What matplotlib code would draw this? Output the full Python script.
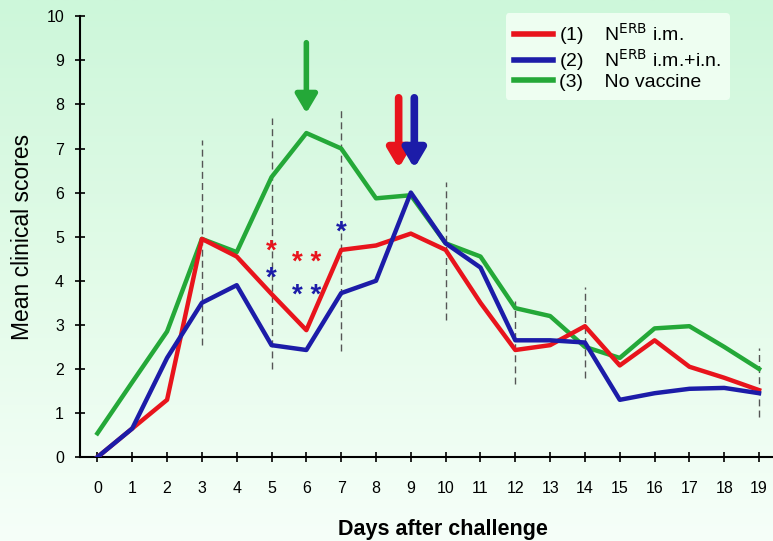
import numpy as np
import matplotlib
matplotlib.use('Agg')
from matplotlib import pyplot as plt
from matplotlib.colors import LinearSegmentedColormap

plt.rcParams['font.family'] = ['Liberation Sans', 'DejaVu Sans']

# Data
days = list(range(20))
im_scores = [0.0, 0.65, 1.3, 4.95, 4.55, 3.7, 2.88, 4.7, 4.8, 5.07,
             4.7, 3.5, 2.43, 2.54, 2.97, 2.08, 2.65, 2.05, 1.8, 1.52]
imin_scores = [0.0, 0.65, 2.25, 3.5, 3.9, 2.54, 2.43, 3.72, 4.0, 6.0,
               4.85, 4.3, 2.65, 2.65, 2.6, 1.3, 1.45, 1.55, 1.57, 1.45]
novac_scores = [0.54, 1.7, 2.85, 4.95, 4.65, 6.35, 7.35, 7.0, 5.87, 5.94,
                4.85, 4.55, 3.38, 3.2, 2.5, 2.25, 2.92, 2.97, 2.5, 2.0]

series_labels = ['(1)    N$^{\\mathrm{ERB}}$ i.m.',
                 '(2)    N$^{\\mathrm{ERB}}$ i.m.+i.n.',
                 '(3)    No vaccine']

# dashed range markers
range_days = [3, 5, 7, 10, 12, 14, 19]
range_low = [2.55, 2.0, 2.4, 3.1, 1.65, 1.8, 0.9]
range_high = [7.2, 7.7, 7.95, 6.25, 3.55, 3.85, 2.47]

# arrows (x, y_start, y_end)
arrow_x = [6.0, 8.65, 9.1]
arrow_top = [9.4, 8.15, 8.15]
arrow_tip = [7.8, 6.55, 6.55]

# significance stars (x, y, text)
star_x = [5.0, 6.0, 5.0, 6.0, 7.0]
star_y = [4.65, 4.4, 4.05, 3.65, 5.1]
star_txt = ['*', '* *', '*', '* *', '*']

red = '#e8141c'
blue = '#1c1ca8'
green = '#24a838'
star_colors = [red, red, blue, blue, blue]
arrow_colors = [green, red, blue]

fig = plt.figure(figsize=(7.73, 5.41), dpi=100)

# background gradient (mint at top, near white at bottom)
bg = fig.add_axes([0, 0, 1, 1], zorder=-10)
cmap = LinearSegmentedColormap.from_list('bg', ['#cdf7da', '#e2fbe8', '#f6fff9'])
grad = np.linspace(0, 1, 256).reshape(-1, 1)
bg.imshow(grad, aspect='auto', cmap=cmap, extent=[0, 1, 0, 1], origin='upper')
bg.axis('off')

ax = fig.add_axes([0.1035, 0.155, 0.8965, 0.815])
ax.patch.set_alpha(0)

for d, lo, hi in zip(range_days, range_low, range_high):
    ax.plot([d, d], [lo, hi], color='#555555', lw=1.0, ls=(0, (5, 3)), zorder=1)

ax.plot(days, im_scores, color=red, lw=3.2, label=series_labels[0], zorder=3)
ax.plot(days, imin_scores, color=blue, lw=3.2, label=series_labels[1], zorder=3)
ax.plot(days, novac_scores, color=green, lw=3.2, label=series_labels[2], zorder=2)

for x, y0, y1, c in zip(arrow_x, arrow_top, arrow_tip, arrow_colors):
    w = 4.0 if c == green else 5.5
    ax.annotate('', xy=(x, y1), xytext=(x, y0),
                arrowprops=dict(arrowstyle='-|>,head_width=0.65,head_length=1.1',
                                color=c, lw=w, shrinkA=0, shrinkB=0),
                zorder=4)

for x, y, t, c in zip(star_x, star_y, star_txt, star_colors):
    ax.text(x, y, t, color=c, fontsize=20, ha='center', va='center',
            fontweight='bold', zorder=5)

ax.set_xlim(-0.5, 19.4)
ax.set_ylim(0, 10)
ax.set_xticks(days)
ax.set_yticks(range(11))
ax.tick_params(direction='inout', length=7, width=1.2, labelsize=11.5, colors='black')
ax.tick_params(axis='x', pad=14)
ax.tick_params(axis='y', pad=8)
for side in ('top', 'right'):
    ax.spines[side].set_visible(False)
for side in ('left', 'bottom'):
    ax.spines[side].set_linewidth(1.5)

ax.set_ylabel('Mean clinical scores', fontsize=16.5)
ax.yaxis.set_label_coords(-0.066, 0.5)
ax.set_xlabel('Days after challenge', fontsize=15.5, fontweight='bold')
ax.xaxis.set_label_coords(0.524, -0.14)

leg = ax.legend(loc='upper left', bbox_to_anchor=(0.6, 1.03), fontsize=14,
                frameon=True, handlelength=2.0, handletextpad=0.3,
                labelspacing=0.0, borderpad=0.45)
for h in leg.get_lines():
    h.set_linewidth(4)
leg.get_frame().set_facecolor('#f2fff4')
leg.get_frame().set_edgecolor('none')
leg.get_frame().set_alpha(0.9)

fig.savefig('out.png', dpi=100)
